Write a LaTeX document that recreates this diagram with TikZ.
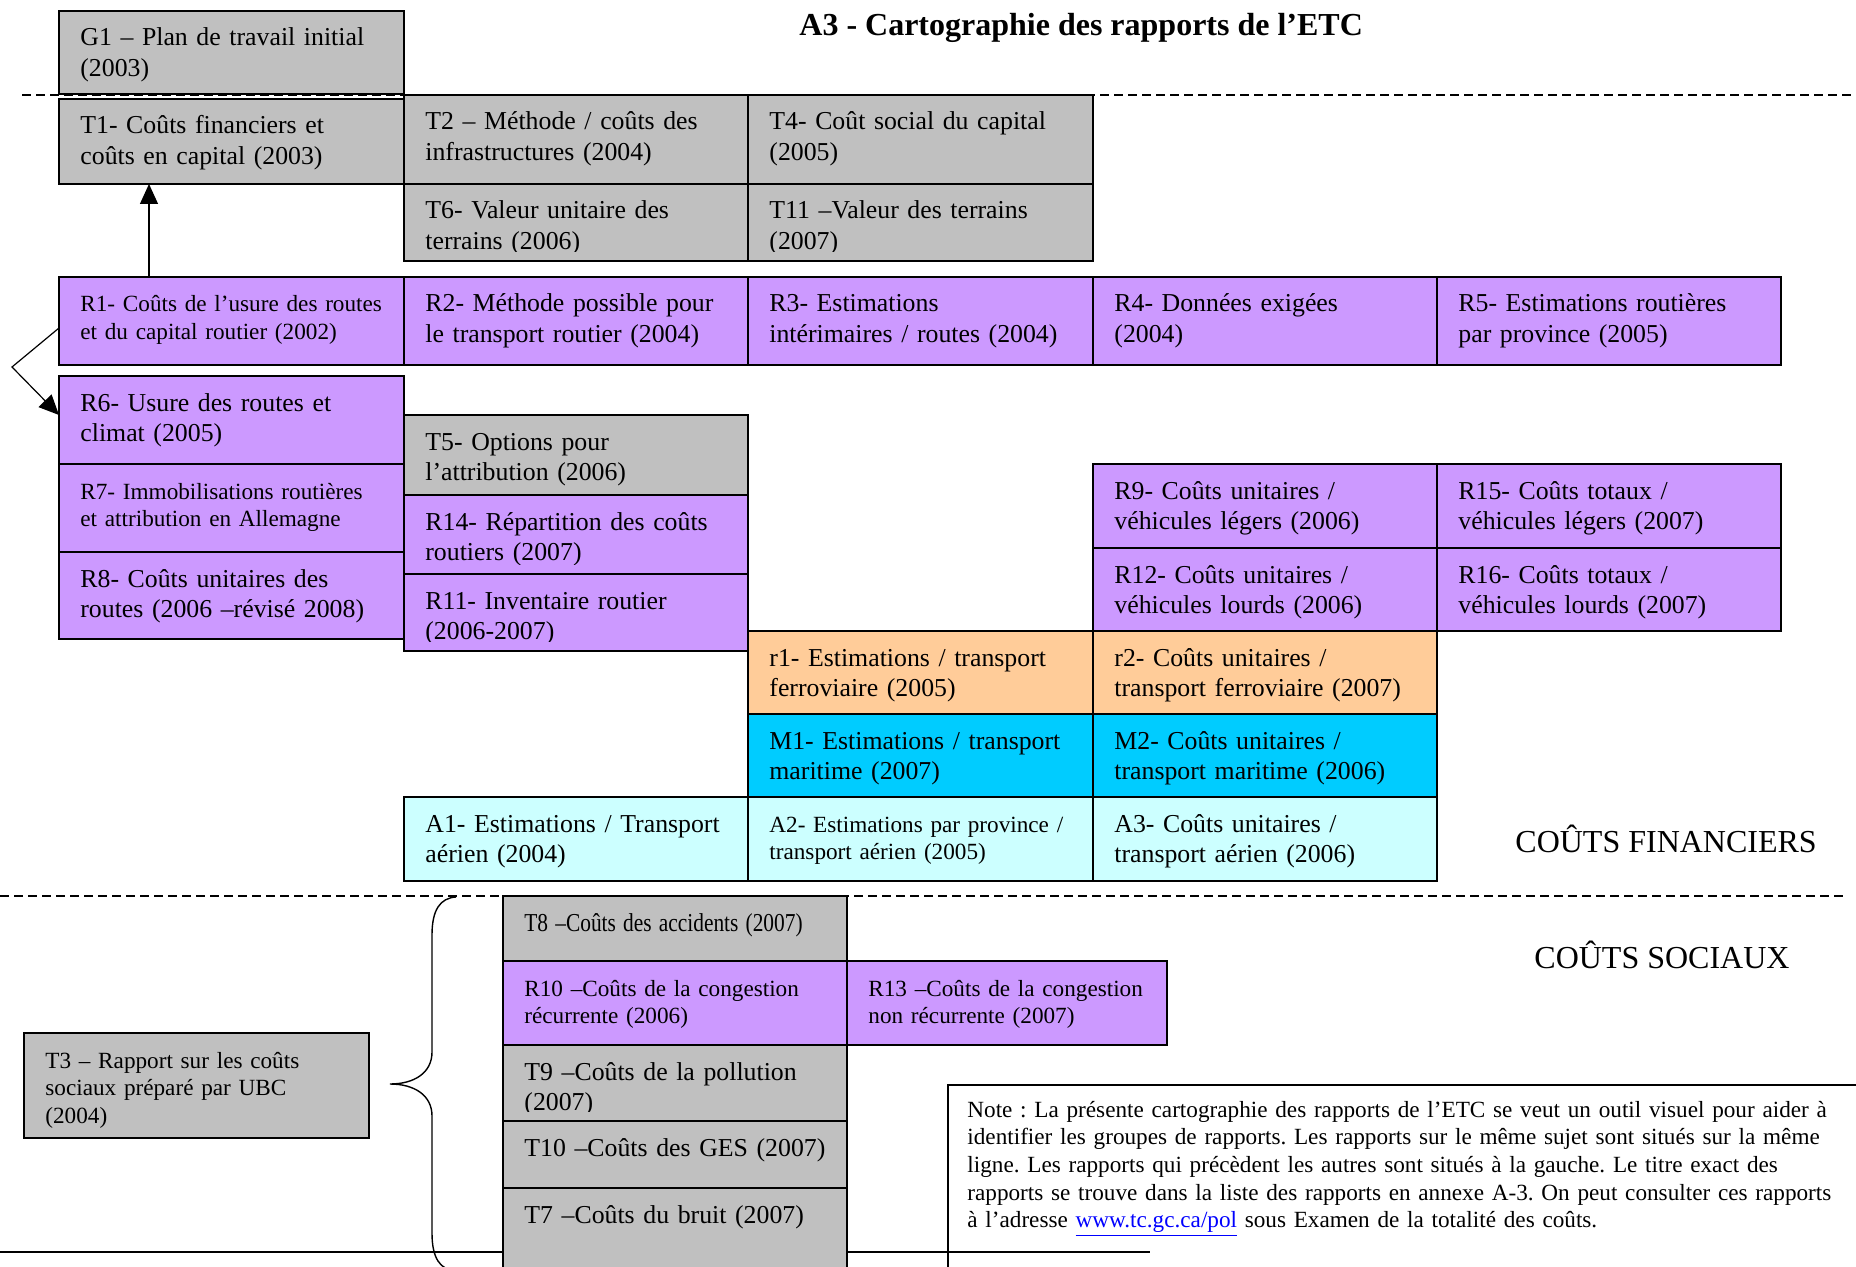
\documentclass[tikz,border=0pt]{standalone}
\usepackage{fontspec}
\setmainfont{Liberation Serif}
\usepackage{graphicx}
\usetikzlibrary{arrows.meta}
\frenchspacing

\definecolor{grisT}{HTML}{C0C0C0}
\definecolor{violetR}{HTML}{CC99FF}
\definecolor{orangeF}{HTML}{FFCC99}
\definecolor{bleuM}{HTML}{00CCFF}
\definecolor{cyanA}{HTML}{CCFFFF}
\definecolor{lienweb}{HTML}{0000FF}

\tikzset{
  cadre/.style={draw=black, line width=1pt, inner sep=0pt, outer sep=0pt},
  gris/.style={fill=grisT},
  violet/.style={fill=violetR},
  orange/.style={fill=orangeF},
  bleu/.style={fill=bleuM},
  cyan/.style={fill=cyanA},
  texte/.style={inner sep=0pt, text width=210pt, align=left,
                font=\fontsize{12.9}{15.2}\selectfont},
  petit/.style={font=\fontsize{11.6}{13.9}\selectfont},
  fleche/.style={line width=0.6pt, -{Triangle[length=10pt,width=9pt]}},
  tirets/.style={line width=0.8pt, dash pattern=on 4.5pt off 2.5pt},
  trait/.style={line width=1pt},
  accolade/.style={line width=0.7pt},
  titre/.style={inner sep=0pt, font=\bfseries\fontsize{16}{19}\selectfont},
  rubrique/.style={inner sep=0pt, font=\fontsize{16}{19}\selectfont},
  remarque/.style={inner sep=0pt, text width=480pt, align=left,
                   font=\fontsize{11.6}{13.85}\selectfont},
}

% one report box: name, x1, y1, x2, y2 (pixels), fill style, text style, text
\newcommand{\rapport}[8]{%
  \node[cadre,#6,anchor=north west,
        minimum width={0.5pt*(#4-#2)},minimum height={0.5pt*(#5-#3)}] (#1) at (#2,#3) {};
  \begin{scope}
    \clip ([shift={(0.5pt,-0.5pt)}]#1.north west) rectangle ([shift={(-0.5pt,4.8pt)}]#1.south east);
    \node[texte,#7,anchor=base west] (#1-txt) at ([shift={(10.5pt,-17.5pt)}]#1.north west) {#8};
  \end{scope}}

\newcommand{\weblink}[1]{\textcolor{lienweb}{\underline{#1}}}

\begin{document}
\begin{tikzpicture}[x=0.5pt, y=-0.5pt]
\useasboundingbox (0,0) rectangle (1856,1267);
\clip (0,0) rectangle (1856,1267);

% separators between the sections
\draw[tirets] (22,95) -- (1856,95);
\draw[tirets] (0,896) -- (1847,896);
\draw[trait] (0,1252) -- (1150,1252);

% general work plan and capital reports
\rapport{G1}{59}{11}{404}{94}{gris}{}{G1 – Plan de travail initial\\(2003)}
\rapport{T1}{59}{99}{404}{184}{gris}{}{T1- Coûts financiers et\\coûts en capital (2003)}
\rapport{T2}{404}{95}{748}{184}{gris}{}{T2 – Méthode / coûts des\\infrastructures (2004)}
\rapport{T4}{748}{95}{1093}{184}{gris}{}{T4- Coût social du capital\\(2005)}
\rapport{T6}{404}{184}{748}{261}{gris}{}{T6- Valeur unitaire des\\terrains (2006)}
\rapport{T11}{748}{184}{1093}{261}{gris}{}{T11 –Valeur des terrains\\(2007)}

% road reports
\rapport{R1}{59}{277}{404}{365}{violet}{petit}{R1- Coûts de l’usure des routes\\et du capital routier (2002)}
\rapport{R2}{404}{277}{748}{365}{violet}{}{R2- Méthode possible pour\\le transport routier (2004)}
\rapport{R3}{748}{277}{1093}{365}{violet}{}{R3- Estimations\\intérimaires / routes (2004)}
\rapport{R4}{1093}{277}{1437}{365}{violet}{}{R4- Données exigées\\(2004)}
\rapport{R5}{1437}{277}{1781}{365}{violet}{}{R5- Estimations routières\\par province (2005)}

\rapport{R6}{59}{376}{404}{464}{violet}{}{R6- Usure des routes et\\climat (2005)}
\rapport{R7}{59}{464}{404}{552}{violet}{petit}{R7- Immobilisations routières\\et attribution en Allemagne}
\rapport{R8}{59}{552}{404}{639}{violet}{}{R8- Coûts unitaires des\\routes (2006 –révisé 2008)}
\rapport{T5}{404}{415}{748}{495}{gris}{}{T5- Options pour\\l’attribution (2006)}
\rapport{R14}{404}{495}{748}{574}{violet}{}{R14- Répartition des coûts\\routiers (2007)}
\rapport{R11}{404}{574}{748}{651}{violet}{}{R11- Inventaire routier\\(2006-2007)}

\rapport{R9}{1093}{464}{1437}{548}{violet}{}{R9- Coûts unitaires /\\véhicules légers (2006)}
\rapport{R15}{1437}{464}{1781}{548}{violet}{}{R15- Coûts totaux /\\véhicules légers (2007)}
\rapport{R12}{1093}{548}{1437}{631}{violet}{}{R12- Coûts unitaires /\\véhicules lourds (2006)}
\rapport{R16}{1437}{548}{1781}{631}{violet}{}{R16- Coûts totaux /\\véhicules lourds (2007)}

% rail, marine and air reports
\rapport{r1}{748}{631}{1093}{714}{orange}{}{r1- Estimations / transport\\ferroviaire (2005)}
\rapport{r2}{1093}{631}{1437}{714}{orange}{}{r2- Coûts unitaires /\\transport ferroviaire (2007)}
\rapport{M1}{748}{714}{1093}{797}{bleu}{}{M1- Estimations / transport\\maritime (2007)}
\rapport{M2}{1093}{714}{1437}{797}{bleu}{}{M2- Coûts unitaires /\\transport maritime (2006)}
\rapport{A1}{404}{797}{748}{881}{cyan}{}{A1- Estimations / Transport\\aérien (2004)}
\rapport{A2}{748}{797}{1093}{881}{cyan}{petit}{A2- Estimations par province /\\transport aérien (2005)}
\rapport{A3}{1093}{797}{1437}{881}{cyan}{}{A3- Coûts unitaires /\\transport aérien (2006)}

% social cost reports
\rapport{T8}{503}{896}{847}{961}{gris}{}{\scalebox{0.83}[1]{T8 –Coûts des accidents (2007)}}
\rapport{R10}{503}{961}{847}{1045}{violet}{petit}{R10 –Coûts de la congestion\\récurrente (2006)}
\rapport{R13}{847}{961}{1167}{1045}{violet}{petit}{R13 –Coûts de la congestion\\non récurrente (2007)}
\rapport{T9}{503}{1045}{847}{1121}{gris}{}{T9 –Coûts de la pollution\\(2007)}
\rapport{T10}{503}{1121}{847}{1188}{gris}{}{T10 –Coûts des GES (2007)}
\rapport{T7}{503}{1188}{847}{1290}{gris}{}{T7 –Coûts du bruit (2007)}
\rapport{T3}{24}{1033}{369}{1138}{gris}{petit}{T3 – Rapport sur les coûts\\sociaux préparé par UBC\\(2004)}

% links between reports
\draw[fleche] ([xshift=45pt]R1.north west) -- ([xshift=45pt]T1.south west);
\coordinate (coude) at (12,367);
\draw[fleche] ([yshift=-25.5pt]R1.north west) -- (coude) -- ([yshift=-19.5pt]R6.north west);

% brace grouping the social cost studies
\coordinate (acc-haut) at (456,897);
\coordinate (acc-pointe) at (390,1084);
\coordinate (acc-bas) at (456,1271);
\draw[accolade] (acc-haut) .. controls (440,898) and (432,910) .. (432,935)
  -- (432,1052) .. controls (432,1073) and (414,1084) .. (acc-pointe)
  .. controls (414,1084) and (432,1095) .. (432,1116)
  -- (432,1233) .. controls (432,1258) and (440,1270) .. (acc-bas);

% headings
\node[titre, anchor=base west] (titre) at (799,36) {A3 - Cartographie des rapports de l’ETC};
\node[rubrique, anchor=base west] (financiers) at (1515,852) {COÛTS FINANCIERS};
\node[rubrique, anchor=base west] (sociaux) at (1534,968) {COÛTS SOCIAUX};

% explanatory note
\node[draw=black, line width=0.8pt, inner sep=0pt, anchor=north west,
      minimum width=470pt, minimum height=110pt] (note) at (947,1084) {};
\node[remarque, anchor=base west] (note-txt) at (967,1117) {Note : La présente cartographie des rapports de l’ETC se veut un outil visuel pour aider à\\
identifier les groupes de rapports. Les rapports sur le même sujet sont situés sur la même\\
ligne. Les rapports qui précèdent les autres sont situés à la gauche. Le titre exact des\\
rapports se trouve dans la liste des rapports en annexe A-3. On peut consulter ces rapports\\
à l’adresse \weblink{www.tc.gc.ca/pol} sous Examen de la totalité des coûts.};
\end{tikzpicture}
\end{document}
